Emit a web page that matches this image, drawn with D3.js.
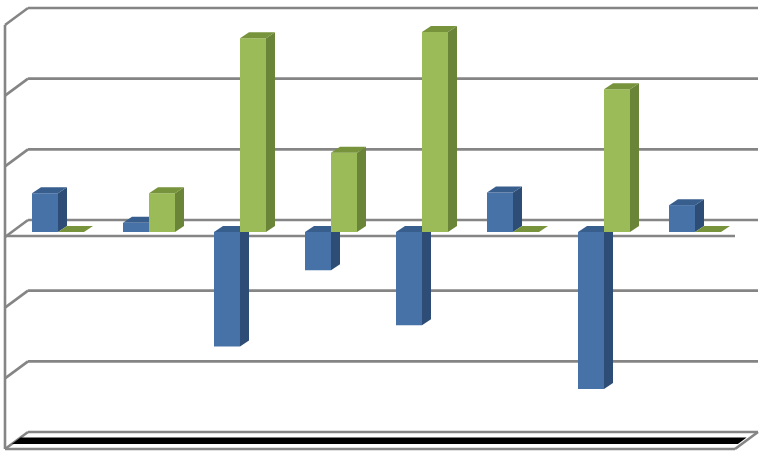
<!DOCTYPE html>
<html>
<head>
<meta charset="utf-8">
<script src="https://cdn.jsdelivr.net/npm/d3@7"></script>
<style>
html,body{margin:0;padding:0;background:#fff;}
svg{display:block;}
</style>
</head>
<body>
<svg id="chart" width="766" height="453"></svg>
<script>
// ---- data ----
const categories = ["1", "2", "3", "4", "5", "6", "7", "8"];
const seriesNames = ["Series 1", "Series 2"];
const series1 = [0.55, 0.13, -1.62, -0.54, -1.32, 0.56, -2.22, 0.38];
const series2 = [0, 0.55, 2.74, 1.12, 2.83, 0, 2.02, 0];
const gridValues = [-3, -2, -1, 0, 1, 2, 3];

// ---- layout ----
const svg = d3.select("#chart");
const wallX0 = 28, wallX1 = 758;   // back wall x extent
const DX = 23, DY = 17;            // full depth projection offset
const frontDY = 12;                // bar front face offset from back wall
const barDX = 9, barDY = -6;       // bar depth
const gridColor = "#858585";
const gridW = 2.6;

const y = d3.scaleLinear().domain([-3, 3]).range([432, 8]);
const x = d3.scaleBand().domain(categories).range([12.5, 740.5])
  .paddingInner(39 / 91).paddingOuter(39 / 182);
const xs = d3.scaleBand().domain(seriesNames).range([0, x.bandwidth()]).padding(0);

const colors = {
  "Series 1": {front: "#4672a8", side: "#2d4d76", top: "#385e8e"},
  "Series 2": {front: "#9bbb59", side: "#6b8538", top: "#77933c"}
};

// ---- back wall gridlines ----
const g = svg.append("g");
gridValues.forEach(v => {
  const yy = y(v);
  g.append("line").attr("x1", wallX0).attr("x2", wallX1).attr("y1", yy).attr("y2", yy)
    .attr("stroke", gridColor).attr("stroke-width", gridW);
  g.append("line").attr("x1", wallX0 - DX).attr("y1", yy + DY).attr("x2", wallX0).attr("y2", yy)
    .attr("stroke", gridColor).attr("stroke-width", gridW);
});

// left wall vertical edge
g.append("line").attr("x1", wallX0 - DX).attr("x2", wallX0 - DX)
  .attr("y1", y(3) + DY).attr("y2", y(-3) + DY)
  .attr("stroke", gridColor).attr("stroke-width", gridW);

// floor
const fy = y(-3);
const t1 = 0.32, t2 = 0.7;
g.append("polygon")
  .attr("points", [
    [wallX0 - DX * t1, fy + DY * t1], [wallX1 - DX * t1 - 4, fy + DY * t1],
    [wallX1 - DX * t2 - 4, fy + DY * t2], [wallX0 - DX * t2, fy + DY * t2]
  ].map(p => p.join(",")).join(" "))
  .attr("fill", "#000");
g.append("line").attr("x1", wallX0 - DX).attr("x2", wallX1 - DX).attr("y1", fy + DY).attr("y2", fy + DY)
  .attr("stroke", gridColor).attr("stroke-width", gridW);
g.append("line").attr("x1", wallX1 - DX).attr("y1", fy + DY).attr("x2", wallX1).attr("y2", fy)
  .attr("stroke", gridColor).attr("stroke-width", gridW);

// zero plane front edge
const y0 = y(0);
g.append("line").attr("x1", wallX0 - DX).attr("x2", wallX1 - DX).attr("y1", y0 + DY - 1).attr("y2", y0 + DY - 1)
  .attr("stroke", gridColor).attr("stroke-width", gridW);

// ---- bars ----
const bars = svg.append("g");
function poly(pts) { return pts.map(p => p.join(",")).join(" "); }

categories.forEach((c, i) => {
  [[seriesNames[0], series1[i]], [seriesNames[1], series2[i]]].forEach(([s, v]) => {
    const col = colors[s];
    const x0 = x(c) + xs(s), x1 = x0 + xs.bandwidth();
    const yv = y(v) + frontDY, yz = y(0) + frontDY;
    const yTop = Math.min(yv, yz), yBot = Math.max(yv, yz);
    const bg = bars.append("g");
    if (yBot - yTop > 0.5) {
      bg.append("polygon").attr("points", poly([[x0, yTop], [x1, yTop], [x1, yBot], [x0, yBot]]))
        .attr("fill", col.front);
      bg.append("polygon").attr("points", poly([[x1, yTop], [x1 + barDX, yTop + barDY], [x1 + barDX, yBot + barDY], [x1, yBot]]))
        .attr("fill", col.side);
    }
    bg.append("polygon").attr("points", poly([[x0, yTop], [x0 + barDX, yTop + barDY], [x1 + barDX, yTop + barDY], [x1, yTop]]))
      .attr("fill", col.top);
  });
});
</script>
</body>
</html>
